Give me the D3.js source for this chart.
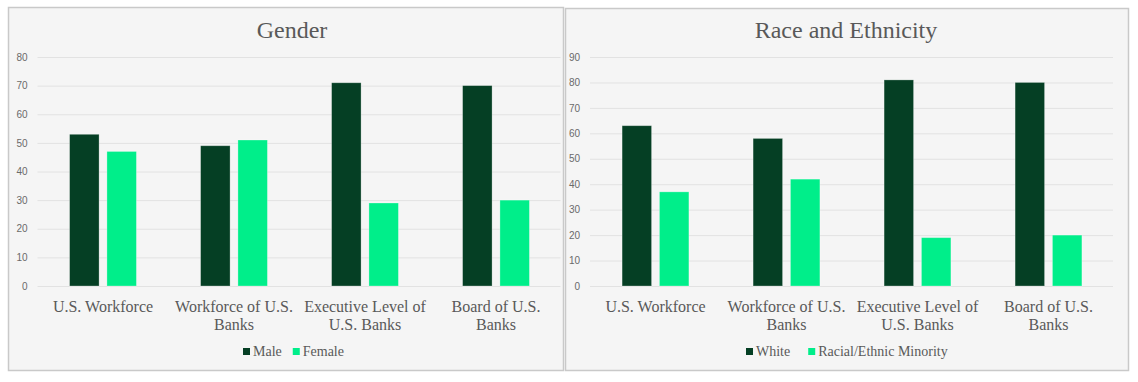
<!DOCTYPE html>
<html>
<head>
<meta charset="utf-8">
<script src="https://cdn.jsdelivr.net/npm/d3@7"></script>
<style>
  html, body { margin: 0; padding: 0; background: #ffffff; }
  svg { display: block; }
</style>
</head>
<body>
<svg id="chart" width="1138" height="382"></svg>
<script>
// ---- data ----
const categories = ["U.S. Workforce", "Workforce of U.S. Banks", "Executive Level of U.S. Banks", "Board of U.S. Banks"];

const genderTitle = "Gender";
const genderSeries = ["Male", "Female"];
const maleValues = [53, 49, 71, 70];
const femaleValues = [47, 51, 29, 30];
const genderTicks = [0, 10, 20, 30, 40, 50, 60, 70, 80];

const raceTitle = "Race and Ethnicity";
const raceSeries = ["White", "Racial/Ethnic Minority"];
const whiteValues = [63, 58, 81, 80];
const minorityValues = [37, 42, 19, 20];
const raceTicks = [0, 10, 20, 30, 40, 50, 60, 70, 80, 90];

const seriesColors = ["#053f24", "#00ee8a"];

// ---- drawing ----
const svg = d3.select("#chart");
const serif = "'Liberation Serif', 'Times New Roman', serif";
const sans = "'Liberation Sans', Arial, sans-serif";
const textGrey = "#595959";

function drawPanel(cfg) {
  const g = svg.append("g");
  // panel frame
  g.append("rect")
    .attr("x", cfg.box[0] + 0.5).attr("y", cfg.box[1] + 0.5)
    .attr("width", cfg.box[2] - cfg.box[0]).attr("height", cfg.box[3] - cfg.box[1])
    .attr("fill", "#f5f5f5").attr("stroke", "#c9c9c9").attr("stroke-width", 1.5);

  // title
  g.append("text")
    .attr("x", cfg.titleX).attr("y", 37.5)
    .attr("text-anchor", "middle")
    .attr("font-family", serif).attr("font-size", 24)
    .attr("fill", textGrey)
    .text(cfg.title);

  const x = d3.scaleBand().domain(categories).range([cfg.x0, cfg.x1]).padding(0);
  const y = d3.scaleLinear().domain([0, d3.max(cfg.ticks)]).range([286, 57]);

  // gridlines + tick labels
  const yAxis = d3.axisLeft(y).tickValues(cfg.ticks).tickSize(-(cfg.x1 - cfg.x0 - 1)).tickPadding(10).tickFormat(d3.format("d"));
  const ax = g.append("g").attr("transform", `translate(${cfg.x0},0)`).call(yAxis);
  ax.select(".domain").remove();
  ax.selectAll(".tick line").attr("stroke", "#e2e2e2").attr("stroke-width", 1);
  ax.selectAll(".tick text")
    .attr("font-family", sans).attr("font-size", 10).attr("fill", "#6a6a6a");

  // bars
  const step = x.step();
  const barW = step * 0.225;
  const gap = step * 0.06;
  const offsets = [-(gap / 2 + barW), gap / 2];
  cfg.values.forEach((vals, si) => {
    g.append("g").selectAll("rect")
      .data(vals)
      .join("rect")
      .attr("x", (d, i) => x(categories[i]) + step / 2 + offsets[si])
      .attr("y", d => y(d))
      .attr("width", barW)
      .attr("height", d => y(0) - y(d))
      .attr("fill", seriesColors[si])
      .attr("stroke", "#ffffff").attr("stroke-opacity", 0.35).attr("stroke-width", 0.8);
  });

  // category labels (wrapped to band width), one text per line
  const fs = 16;
  const lh = 18;
  categories.forEach(cat => {
    const probe = g.append("text")
      .attr("font-family", serif).attr("font-size", fs);
    const words = cat.split(" ");
    let lines = [];
    let line = [];
    words.forEach(w => {
      line.push(w);
      probe.text(line.join(" "));
      if (probe.node().getComputedTextLength() > step - 4 && line.length > 1) {
        line.pop();
        lines.push(line.join(" "));
        line = [w];
      }
    });
    lines.push(line.join(" "));
    probe.remove();
    lines.forEach((ln, li) => {
      g.append("text")
        .attr("text-anchor", "middle")
        .attr("font-family", serif).attr("font-size", fs)
        .attr("fill", textGrey)
        .attr("x", x(cat) + step / 2)
        .attr("y", 311.5 + li * lh)
        .text(ln);
    });
  });

  // legend
  const lg = g.append("g");
  let cx = 0;
  cfg.series.forEach((s, si) => {
    lg.append("rect").attr("x", cx).attr("y", 348).attr("width", 7).attr("height", 7)
      .attr("fill", seriesColors[si]);
    const tx = lg.append("text").attr("x", cx + 10).attr("y", 356)
      .attr("font-family", serif).attr("font-size", 14).attr("fill", textGrey)
      .text(s);
    cx += 10 + tx.node().getComputedTextLength() + cfg.legendGap;
  });
  lg.attr("transform", `translate(${cfg.legendX},0)`);
}

drawPanel({
  box: [8, 7, 563, 370],
  title: genderTitle, titleX: 292,
  x0: 37.5, x1: 561.5,
  ticks: genderTicks,
  values: [maleValues, femaleValues],
  series: genderSeries,
  legendX: 243, legendGap: 11
});

drawPanel({
  box: [565, 8, 1128, 370],
  title: raceTitle, titleX: 846,
  x0: 590, x1: 1114,
  ticks: raceTicks,
  values: [whiteValues, minorityValues],
  series: raceSeries,
  legendX: 746, legendGap: 18
});
</script>
</body>
</html>
